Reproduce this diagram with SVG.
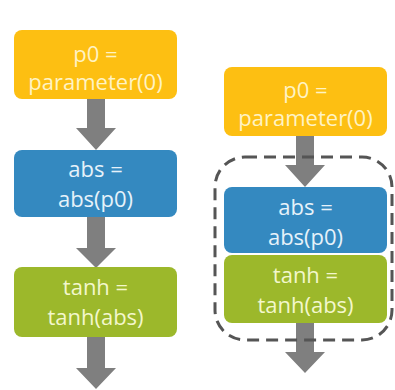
<svg xmlns="http://www.w3.org/2000/svg" width="395" height="390" viewBox="0 0 395 390">
  <defs>
    <style>
      .lbl { font-family: "Open Sans", "Noto Sans", "DejaVu Sans", sans-serif; font-size: 22px; text-anchor: middle; }
      .param rect { fill: #FDBF12; }
      .param text { fill: #FFF3C4; }
      .absn rect { fill: #3489C0; }
      .absn text { fill: #E6F2FA; }
      .tanhn rect { fill: #9CB82B; }
      .tanhn text { fill: #F3F7CC; }
      .arrow { fill: #7F7F7F; }
      .fuse { fill: none; stroke: #555555; stroke-width: 3; stroke-dasharray: 12 7; }
    </style>
  </defs>
  <rect width="395" height="390" fill="#FFFFFF"/>

  <!-- left column: unfused graph -->
  <g id="connectors-left">
    <path class="arrow" d="M87,99 H105 V128 H116 L96,150 L76,128 H87 Z"/>
    <path class="arrow" d="M87,217 H105 V248 H116 L96,268 L76,248 H87 Z"/>
    <path class="arrow" d="M87,337 H105 V368 H116 L96,389 L76,368 H87 Z"/>
  </g>
  <g id="left-p0" class="param">
    <rect x="14" y="30" width="163" height="69" rx="8"/>
    <text class="lbl" x="95.5" y="62">p0 =</text>
    <text class="lbl" x="95.5" y="90">parameter(0)</text>
  </g>
  <g id="left-abs" class="absn">
    <rect x="14" y="150" width="163" height="67" rx="8"/>
    <text class="lbl" x="95.5" y="177">abs =</text>
    <text class="lbl" x="95.5" y="207">abs(p0)</text>
  </g>
  <g id="left-tanh" class="tanhn">
    <rect x="14" y="267" width="163" height="70" rx="8"/>
    <text class="lbl" x="95.5" y="295">tanh =</text>
    <text class="lbl" x="95.5" y="325">tanh(abs)</text>
  </g>

  <!-- right column: abs and tanh fused -->
  <g id="connectors-right">
    <path class="arrow" d="M296,136 H314 V165 H325 L305,187 L285,165 H296 Z"/>
    <path class="arrow" d="M296,323 H314 V352 H325 L305,373 L285,352 H296 Z"/>
  </g>
  <g id="right-p0" class="param">
    <rect x="224" y="67" width="163" height="69" rx="8"/>
    <text class="lbl" x="305.5" y="98">p0 =</text>
    <text class="lbl" x="305.5" y="126">parameter(0)</text>
  </g>
  <g id="right-abs" class="absn">
    <rect x="224" y="187" width="163" height="66" rx="8"/>
    <text class="lbl" x="305.5" y="215">abs =</text>
    <text class="lbl" x="305.5" y="245">abs(p0)</text>
  </g>
  <g id="right-tanh" class="tanhn">
    <rect x="224" y="255" width="163" height="68" rx="8"/>
    <text class="lbl" x="305.5" y="283">tanh =</text>
    <text class="lbl" x="305.5" y="313">tanh(abs)</text>
  </g>
  <g id="fusion-group">
    <rect class="fuse" x="215" y="157" width="177" height="183" rx="30"/>
  </g>
</svg>
